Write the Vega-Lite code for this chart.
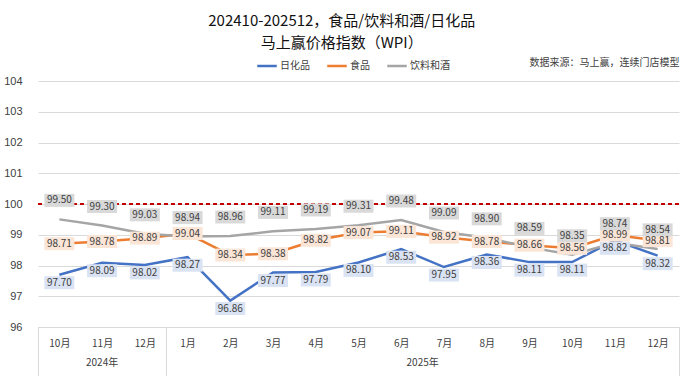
{
  "$schema": "https://vega.github.io/schema/vega-lite/v6.json",
  "autosize": {"type": "none"},
  "width": 641,
  "height": 246,
  "padding": {"left": 38, "top": 81, "right": 11, "bottom": 49},
  "background": "white",
  "config": {
    "view": {"stroke": null},
    "font": "Noto Sans CJK SC",
    "axisY": {
      "tickCount": 12,
      "labelOverlap": false,
      "format": "d",
      "labelFont": "Liberation Sans",
      "labelFontSize": 11,
      "labelColor": "#404040",
      "labelPadding": 16,
      "domain": false,
      "ticks": false,
      "grid": true,
      "gridColor": "#d9d9d9",
      "gridWidth": 1
    }
  },
  "title": {
    "text": ["202410-202512，食品/饮料和酒/日化品", "马上赢价格指数（WPI）"],
    "font": "Noto Sans CJK SC",
    "fontSize": 15,
    "fontWeight": "normal",
    "color": "#111111",
    "lineHeight": 22,
    "anchor": "middle",
    "frame": "bounds",
    "dy": 0
  },
  "data": {
    "values": [
      {"m": "2024-10", "s": "日化品", "v": 97.70},
      {"m": "2024-11", "s": "日化品", "v": 98.09},
      {"m": "2024-12", "s": "日化品", "v": 98.02},
      {"m": "2025-01", "s": "日化品", "v": 98.27},
      {"m": "2025-02", "s": "日化品", "v": 96.86},
      {"m": "2025-03", "s": "日化品", "v": 97.77},
      {"m": "2025-04", "s": "日化品", "v": 97.79},
      {"m": "2025-05", "s": "日化品", "v": 98.10},
      {"m": "2025-06", "s": "日化品", "v": 98.53},
      {"m": "2025-07", "s": "日化品", "v": 97.95},
      {"m": "2025-08", "s": "日化品", "v": 98.36},
      {"m": "2025-09", "s": "日化品", "v": 98.11},
      {"m": "2025-10", "s": "日化品", "v": 98.11},
      {"m": "2025-11", "s": "日化品", "v": 98.82},
      {"m": "2025-12", "s": "日化品", "v": 98.32},
      {"m": "2024-10", "s": "食品", "v": 98.71},
      {"m": "2024-11", "s": "食品", "v": 98.78},
      {"m": "2024-12", "s": "食品", "v": 98.89},
      {"m": "2025-01", "s": "食品", "v": 99.04},
      {"m": "2025-02", "s": "食品", "v": 98.34},
      {"m": "2025-03", "s": "食品", "v": 98.38},
      {"m": "2025-04", "s": "食品", "v": 98.82},
      {"m": "2025-05", "s": "食品", "v": 99.07},
      {"m": "2025-06", "s": "食品", "v": 99.11},
      {"m": "2025-07", "s": "食品", "v": 98.92},
      {"m": "2025-08", "s": "食品", "v": 98.78},
      {"m": "2025-09", "s": "食品", "v": 98.66},
      {"m": "2025-10", "s": "食品", "v": 98.56},
      {"m": "2025-11", "s": "食品", "v": 98.99},
      {"m": "2025-12", "s": "食品", "v": 98.81},
      {"m": "2024-10", "s": "饮料和酒", "v": 99.50},
      {"m": "2024-11", "s": "饮料和酒", "v": 99.30},
      {"m": "2024-12", "s": "饮料和酒", "v": 99.03},
      {"m": "2025-01", "s": "饮料和酒", "v": 98.94},
      {"m": "2025-02", "s": "饮料和酒", "v": 98.96},
      {"m": "2025-03", "s": "饮料和酒", "v": 99.11},
      {"m": "2025-04", "s": "饮料和酒", "v": 99.19},
      {"m": "2025-05", "s": "饮料和酒", "v": 99.31},
      {"m": "2025-06", "s": "饮料和酒", "v": 99.48},
      {"m": "2025-07", "s": "饮料和酒", "v": 99.09},
      {"m": "2025-08", "s": "饮料和酒", "v": 98.90},
      {"m": "2025-09", "s": "饮料和酒", "v": 98.59},
      {"m": "2025-10", "s": "饮料和酒", "v": 98.35},
      {"m": "2025-11", "s": "饮料和酒", "v": 98.74},
      {"m": "2025-12", "s": "饮料和酒", "v": 98.54}
    ]
  },
  "resolve": {"axis": {"x": "independent"}},
  "layer": [
    {
      "mark": {"type": "rule", "color": "#c00000", "strokeDash": [4, 3], "strokeWidth": 1.5},
      "encoding": {"y": {"datum": 100, "title": null, "axis": {"values": [96, 97, 98, 99, 100, 101, 102, 103, 104]}}}
    },
    {
      "mark": {"type": "line", "strokeWidth": 2.5},
      "encoding": {
        "x": {
          "field": "m", "type": "ordinal",
          "scale": {"type": "band", "paddingInner": 0, "paddingOuter": 0,
            "domain": ["2024-10","2024-11","2024-12","2025-01","2025-02","2025-03","2025-04","2025-05","2025-06","2025-07","2025-08","2025-09","2025-10","2025-11","2025-12"]},
          "axis": {
            "title": null,
            "orient": "bottom",
            "labelExpr": "datum.value ? parseInt(substring(datum.value, 5)) + '月' : ''",
            "labelAngle": 0,
            "labelFont": "Noto Sans CJK SC",
            "labelFontSize": 10,
            "labelColor": "#404040",
            "labelPadding": -39,
            "labelOverlap": false,
            "labelBound": false,
            "domain": true,
            "domainColor": "#d9d9d9",
            "grid": false,
            "ticks": true,
            "tickBand": "extent",
            "tickSize": 50,
            "tickColor": {"condition": {"test": "datum.extra || datum.value == '2024-12' || datum.value == '2025-12'", "value": "#d9d9d9"}, "value": "transparent"}
          }
        },
        "y": {
          "field": "v", "type": "quantitative", "title": null,
          "scale": {"domain": [96, 104], "zero": false, "nice": false},
          "axis": {"values": [96, 97, 98, 99, 100, 101, 102, 103, 104]}
        },
        "stroke": {
          "field": "s", "type": "nominal",
          "scale": {"domain": ["日化品", "食品", "饮料和酒"], "range": ["#4472c4", "#ed7d31", "#a5a5a5"]},
          "legend": {
            "title": null,
            "orient": "none",
            "direction": "horizontal",
            "legendX": 218,
            "legendY": -26,
            "symbolType": "stroke",
            "symbolSize": 380,
            "symbolStrokeWidth": 2.5,
            "labelFont": "Noto Sans CJK SC",
            "labelFontSize": 10,
            "labelColor": "#404040",
            "labelOffset": 2,
            "columnPadding": 12
          }
        }
      }
    },
    {
      "transform": [{"filter": "datum.s == '日化品'"}],
      "mark": {"type": "point", "filled": true, "opacity": 1, "size": 900, "strokeWidth": 0, "color": "#dae3f3", "shape": "M-1,0.1H1V0.967H-1Z"},
      "encoding": {
        "x": {
          "field": "m", "type": "ordinal",
          "axis": {
            "title": null,
            "orient": "bottom",
            "labelExpr": "datum.value == '2024-11' ? '2024年' : (datum.value == '2025-06' ? '2025年' : '')",
            "labelAngle": 0,
            "labelFont": "Noto Sans CJK SC",
            "labelFontSize": 10,
            "labelColor": "#404040",
            "labelPadding": 30,
            "labelOverlap": false,
            "labelBound": false,
            "labelOffset": {"condition": {"test": "datum.value == '2025-06'", "value": 21.4}, "value": 0},
            "domain": false,
            "ticks": false,
            "grid": false
          }
        },
        "y": {"field": "v", "type": "quantitative", "title": null, "axis": {"values": [96, 97, 98, 99, 100, 101, 102, 103, 104]}}
      }
    },
    {
      "transform": [{"filter": "datum.s == '食品'"}],
      "mark": {"type": "point", "filled": true, "opacity": 1, "size": 900, "strokeWidth": 0, "color": "#fbe5d6", "shape": "M-1,-0.433H1V0.433H-1Z"},
      "encoding": {
        "x": {"field": "m", "type": "ordinal", "axis": null},
        "y": {"field": "v", "type": "quantitative", "title": null, "axis": {"values": [96, 97, 98, 99, 100, 101, 102, 103, 104]}}
      }
    },
    {
      "transform": [{"filter": "datum.s == '饮料和酒'"}],
      "mark": {"type": "point", "filled": true, "opacity": 1, "size": 900, "strokeWidth": 0, "color": "#d9d9d9", "shape": "M-1,-1.7H1V-0.833H-1Z"},
      "encoding": {
        "x": {"field": "m", "type": "ordinal", "axis": null},
        "y": {"field": "v", "type": "quantitative", "title": null, "axis": {"values": [96, 97, 98, 99, 100, 101, 102, 103, 104]}}
      }
    },
    {
      "transform": [{"filter": "datum.s == '食品'"}],
      "mark": {"type": "text", "font": "Noto Sans CJK SC", "fontSize": 10, "color": "#404040", "baseline": "middle", "align": "center"},
      "encoding": {
        "x": {
          "field": "m", "type": "ordinal",
          "axis": {
            "orient": "top",
            "title": "数据来源：马上赢，连续门店模型",
            "titleFont": "Noto Sans CJK SC",
            "titleFontSize": 10,
            "titleFontWeight": "normal",
            "titleColor": "#404040",
            "titleAnchor": "end",
            "titleAlign": "right",
            "titleBaseline": "middle",
            "titleX": 641,
            "titleY": -19,
            "labels": false,
            "ticks": false,
            "domain": false,
            "grid": false
          }
        },
        "y": {"field": "v", "type": "quantitative", "title": null, "axis": {"values": [96, 97, 98, 99, 100, 101, 102, 103, 104]}},
        "text": {"field": "v", "type": "quantitative", "format": ".2f"}
      }
    },
    {
      "transform": [{"filter": "datum.s == '日化品'"}],
      "mark": {"type": "text", "font": "Noto Sans CJK SC", "fontSize": 10, "color": "#404040", "baseline": "middle", "align": "center", "dy": 8},
      "encoding": {
        "x": {"field": "m", "type": "ordinal", "axis": null},
        "y": {"field": "v", "type": "quantitative", "title": null, "axis": {"values": [96, 97, 98, 99, 100, 101, 102, 103, 104]}},
        "text": {"field": "v", "type": "quantitative", "format": ".2f"}
      }
    },
    {
      "transform": [{"filter": "datum.s == '饮料和酒'"}],
      "mark": {"type": "text", "font": "Noto Sans CJK SC", "fontSize": 10, "color": "#404040", "baseline": "middle", "align": "center", "dy": -19},
      "encoding": {
        "x": {"field": "m", "type": "ordinal", "axis": null},
        "y": {"field": "v", "type": "quantitative", "title": null, "axis": {"values": [96, 97, 98, 99, 100, 101, 102, 103, 104]}},
        "text": {"field": "v", "type": "quantitative", "format": ".2f"}
      }
    }
  ]
}
